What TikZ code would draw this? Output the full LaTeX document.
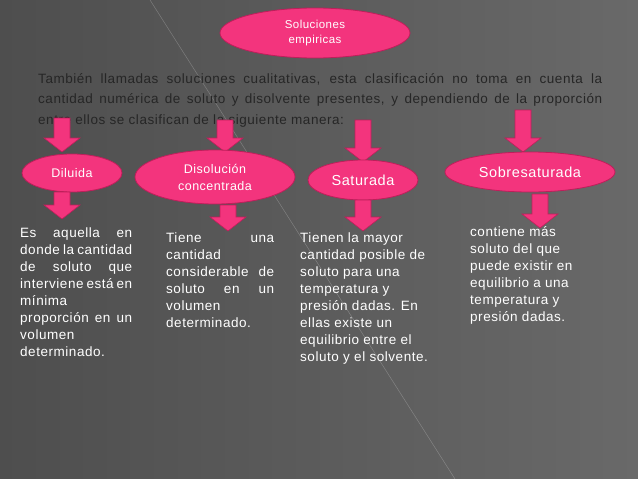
\documentclass[tikz,border=0pt]{standalone}
\usepackage{fontspec}
\setmainfont[LetterSpace=4]{Liberation Sans}
\usetikzlibrary{shapes.geometric}
\definecolor{pk}{RGB}{243,52,125}
\definecolor{pkd}{RGB}{190,30,90}
\definecolor{bgA}{RGB}{78,78,78}
\definecolor{bgB}{RGB}{105,105,105}
\newcommand\jl[2]{\makebox[#1pt][s]{#2}\\}
\newcommand\parrow[3]{\fill[pk,draw=pkd,line width=0.6pt] (#1-8,-#2) -- (#1+8,-#2) -- (#1+8,-#3+14) -- (#1+18,-#3+14) -- (#1,-#3) -- (#1-18,-#3+14) -- (#1-8,-#3+14) -- cycle;}
\begin{document}
\begin{tikzpicture}[x=1pt,y=1pt,
  ell/.style={ellipse,fill=pk,draw=pkd,line width=0.8pt,text=white,inner sep=0pt,align=center},
  txt/.style={text=white,anchor=north west,inner sep=0pt,align=left,font=\fontsize{13.5}{17}\selectfont}]
\useasboundingbox (0,0) rectangle (638,-479);
\shade[left color=bgA,right color=bgB] (0,0) rectangle (638,-479);
\draw[white!70!gray,line width=0.5pt,opacity=0.3] (150,0) -- (455,-479);
\node[ell,minimum width=190,minimum height=50,font=\fontsize{11.5}{15}\selectfont] (top) at (315,-33) {Soluciones\\empiricas};
\node[text=black!85,anchor=north west,inner sep=0pt,align=left,font=\fontsize{13.5}{20.5}\selectfont] (para) at (38,-73) {\jl{564}{También llamadas soluciones cualitativas, esta clasificación no toma en cuenta la}\jl{564}{cantidad numérica de soluto y disolvente presentes, y dependiendo de la proporción}entre ellos se clasifican de la siguiente manera:};
\parrow{62}{118}{152}
\parrow{225}{120}{152}
\parrow{363}{120}{162}
\parrow{523}{110}{152}
\node[ell,minimum width=100,minimum height=38,font=\fontsize{12.5}{15}\selectfont] (dil) at (72,-173) {Diluida};
\node[ell,minimum width=160,minimum height=54,font=\fontsize{12.5}{17}\selectfont] (con) at (215,-177) {Disolución\\concentrada};
\node[ell,minimum width=110,minimum height=40,font=\fontsize{14.5}{17}\selectfont] (sat) at (363,-180) {Saturada};
\node[ell,minimum width=170,minimum height=40,font=\fontsize{14.5}{17}\selectfont] (sob) at (530,-172) {Sobresaturada};
\parrow{62}{192}{219}
\parrow{228}{205}{231}
\parrow{363}{200}{231}
\parrow{540}{194}{228}
\node[txt] (t1) at (20,-228) {\jl{112}{Es aquella en}\jl{112}{donde la cantidad}\jl{112}{de soluto que}\jl{112}{interviene está en}mínima\\\jl{112}{proporción en un}volumen\\determinado.};
\node[txt] (t2) at (166,-233) {\jl{108}{Tiene una}cantidad\\\jl{108}{considerable de}\jl{108}{soluto en un}volumen\\determinado.};
\node[txt] (t3) at (300,-233) {Tienen la mayor\\cantidad posible de\\soluto para una\\temperatura y\\presión dadas. En\\ellas existe un\\equilibrio entre el\\soluto y el solvente.};
\node[txt] (t4) at (470,-226) {contiene más\\soluto del que\\puede existir en\\equilibrio a una\\temperatura y\\presión dadas.};
\end{tikzpicture}
\end{document}
